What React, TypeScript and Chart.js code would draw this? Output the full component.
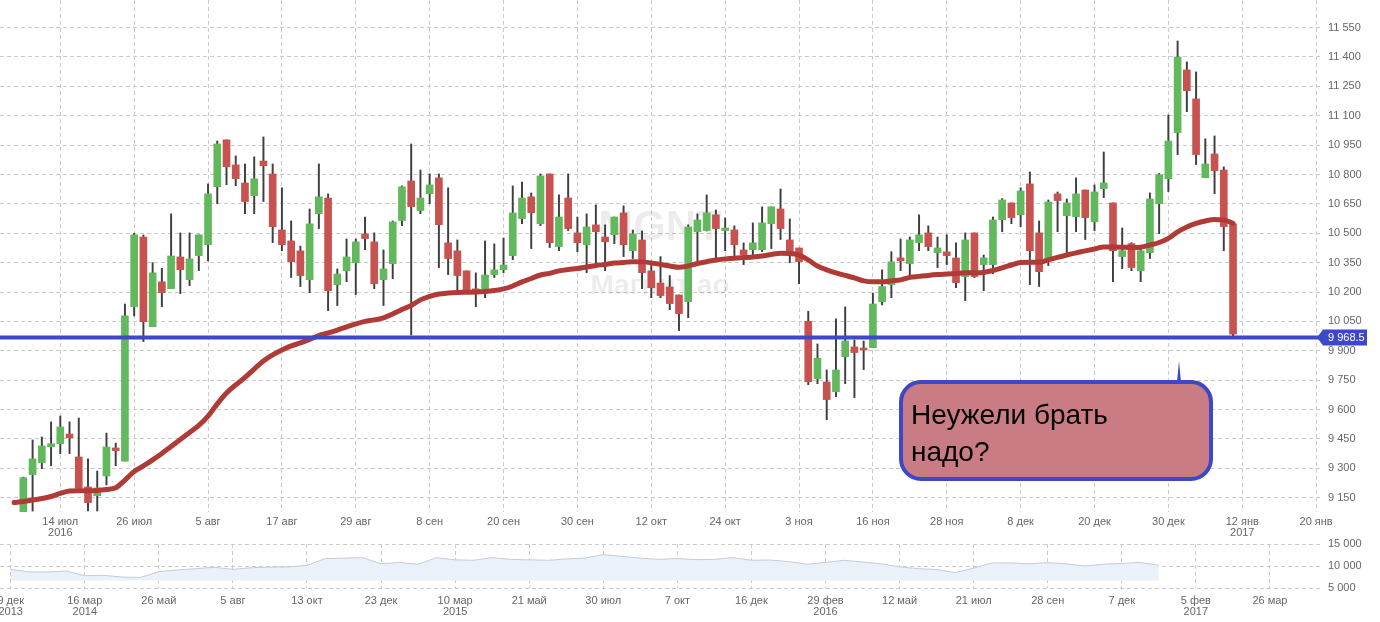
import React, { useEffect, useRef } from 'react';
import { Chart, registerables } from 'chart.js';

Chart.register(...registerables);

// ---- main chart data: trading-day index 0 = 14 июл 2016, first entry is index FIRST_DAY ----
const FIRST_DAY = -5;

const opens: (number | null)[] = [
  null, 9070, 9268, 9329, 9410, 9426, 9475, 9358, 9205, 9160,
  9261, 9404, 9337, 10125, 10481, 10023, 10252, 10217, 10379, 10263,
  10386, 10442, 10738, 10977, 10849, 10757, 10692, 10869, 10803, 10517,
  10461, 10410, 10263, 10600, 10680, 10238, 10309, 10350, 10497, 10456,
  10263, 10345, 10565, 10767, 10616, 10702, 10783, 10451, 10410, 10308,
  10216, 10217, 10289, 10314, 10386, 10575, 10686, 10549, 10803, 10432,
  10680, 10502, 10442, 10543, 10481, 10493, 10604, 10411, 10466, 10308,
  10246, 10226, 10185, 10151, 10508, 10514, 10594, 10514, 10517, 10415,
  10416, 10416, 10549, 10624, 10466, 10425, 10051, 9758, 9741, 9691,
  9870, 9920, 9909, 9916, 10151, 10238, 10374, 10345, 10452, 10502,
  10401, 10405, 10374, 10279, 10502, 10340, 10340, 10570, 10655, 10595,
  10752, 10502, 10371, 10701, 10590, 10585, 10721, 10559, 10728, 10655,
  10381, 10447, 10309, 10401, 10651, 10779, 11014, 11334, 11186, 10784,
  10905, 10823, 10548,
];

const highs: (number | null)[] = [
  null, 9255, 9445, 9460, 9537, 9567, 9537, 9557, 9348, 9286,
  9480, 9429, 10139, 10500, 10491, 10350, 10321, 10599, 10502, 10502,
  10492, 10752, 10971, 10977, 10895, 10854, 10890, 10992, 10854, 10732,
  10563, 10435, 10624, 10854, 10701, 10318, 10471, 10471, 10583, 10502,
  10415, 10563, 10742, 10956, 10823, 10803, 10803, 10732, 10466, 10308,
  10298, 10461, 10446, 10476, 10742, 10762, 10706, 10803, 10803, 10696,
  10803, 10583, 10599, 10645, 10543, 10583, 10640, 10517, 10512, 10338,
  10381, 10284, 10185, 10543, 10599, 10696, 10619, 10578, 10538, 10451,
  10553, 10635, 10635, 10726, 10573, 10425, 10102, 9935, 9802, 10063,
  10124, 9955, 9950, 10195, 10313, 10406, 10471, 10481, 10594, 10538,
  10481, 10492, 10451, 10502, 10502, 10389, 10583, 10677, 10655, 10732,
  10813, 10563, 10670, 10711, 10675, 10783, 10721, 10747, 10915, 10655,
  10527, 10452, 10432, 10706, 10805, 11104, 11482, 11375, 11324, 10982,
  10997, 10839, 10548,
];

const lows: (number | null)[] = [
  null, 9060, 9082, 9298, 9313, 9375, 9375, 9198, 9082, 9082,
  9215, 9313, 9337, 10078, 9947, 10023, 10125, 10217, 10192, 10233,
  10309, 10359, 10651, 10748, 10743, 10600, 10600, 10662, 10452, 10411,
  10274, 10228, 10197, 10524, 10105, 10131, 10253, 10187, 10416, 10217,
  10131, 10268, 10539, 9981, 10600, 10651, 10325, 10289, 10207, 10205,
  10125, 10171, 10274, 10299, 10365, 10549, 10422, 10539, 10427, 10411,
  10514, 10406, 10299, 10350, 10309, 10447, 10381, 10371, 10217, 10171,
  10171, 10110, 10003, 10069, 10360, 10512, 10371, 10411, 10381, 10340,
  10386, 10406, 10422, 10468, 10350, 10243, 9727, 9732, 9548, 9666,
  9732, 9661, 9804, 9916, 10134, 10171, 10309, 10279, 10411, 10411,
  10325, 10340, 10222, 10156, 10274, 10207, 10294, 10508, 10549, 10534,
  10238, 10228, 10335, 10508, 10401, 10508, 10468, 10514, 10682, 10253,
  10319, 10309, 10253, 10371, 10498, 10713, 10902, 11121, 10851, 10784,
  10702, 10411, 9968.5,
];

const closes: (number | null)[] = [
  null, 9252, 9348, 9414, 9426, 9511, 9456, 9198, 9125, 9200,
  9409, 9390, 10078, 10492, 10049, 10298, 10197, 10384, 10314, 10369,
  10492, 10701, 10956, 10840, 10779, 10662, 10778, 10845, 10534, 10442,
  10355, 10284, 10548, 10686, 10207, 10292, 10379, 10456, 10473, 10243,
  10318, 10558, 10737, 10636, 10680, 10747, 10544, 10371, 10284, 10207,
  10206, 10287, 10313, 10338, 10604, 10680, 10605, 10793, 10452, 10583,
  10524, 10452, 10532, 10508, 10457, 10583, 10442, 10497, 10299, 10222,
  10182, 10141, 10090, 10532, 10568, 10604, 10524, 10527, 10442, 10391,
  10451, 10553, 10635, 10524, 10391, 10355, 9742, 9862, 9651, 9802,
  9950, 9891, 9904, 10139, 10228, 10354, 10360, 10466, 10492, 10432,
  10425, 10386, 10248, 10466, 10279, 10374, 10568, 10670, 10580, 10716,
  10411, 10304, 10660, 10667, 10655, 10701, 10580, 10711, 10757, 10411,
  10411, 10325, 10411, 10675, 10799, 10971, 11400, 11228, 10902, 10854,
  10820, 10534, 9985,
];

const movingAverage: number[] = [
  9125, 9131, 9138, 9146, 9156, 9172, 9184, 9186, 9186, 9187,
  9192, 9201, 9240, 9284, 9312, 9343, 9376, 9412, 9447, 9483,
  9519, 9567, 9629, 9685, 9726, 9764, 9807, 9848, 9879, 9904,
  9925, 9940, 9958, 9978, 9991, 10006, 10022, 10037, 10050, 10058,
  10068, 10088, 10111, 10131, 10160, 10178, 10190, 10195, 10198, 10199,
  10200, 10203, 10208, 10216, 10231, 10252, 10269, 10287, 10295, 10308,
  10315, 10320, 10328, 10336, 10341, 10348, 10351, 10355, 10354, 10349,
  10341, 10333, 10326, 10333, 10346, 10355, 10364, 10369, 10373, 10376,
  10379, 10384, 10392, 10398, 10397, 10389, 10364, 10333, 10313, 10298,
  10285, 10272, 10257, 10252, 10252, 10257, 10262, 10275, 10280, 10285,
  10289, 10292, 10295, 10298, 10298, 10300, 10310, 10323, 10338, 10351,
  10352, 10352, 10364, 10377, 10389, 10400, 10410, 10420, 10430, 10430,
  10429, 10427, 10429, 10440, 10453, 10474, 10507, 10532, 10550, 10563,
  10570, 10568, 10551,
];

const LAST_PRICE = 9968.5;

const xTickDays = [0, 8, 16, 24, 32, 40, 48, 56, 64, 72, 80, 88, 96, 104, 112, 120, 128, 136];
const xTickLabels: (string | string[])[] = [
  ['14 июл', '2016'], '26 июл', '5 авг', '17 авг', '29 авг', '8 сен', '20 сен', '30 сен',
  '12 окт', '24 окт', '3 ноя', '16 ноя', '28 ноя', '8 дек', '20 дек', '30 дек',
  ['12 янв', '2017'], '20 янв',
];
const yTicks = [9150, 9300, 9450, 9600, 9750, 9900, 10050, 10200, 10350, 10500, 10650, 10800, 10950, 11100, 11250, 11400, 11550];
const X_MIN = -6.53;
const X_MAX = 136.42;
const Y_MIN = 9077;
const Y_MAX = 11691;

// ---- navigator data: one value per quarter of a navigator label interval ----
const NAV_STEP = 0.25;
const navigatorValues = [
  9240, 8640, 8640, 8860, 7800, 7880, 7500, 7400, 8700, 9100,
  9400, 9700, 9240, 9600, 9750, 9800, 10150, 11700, 11800, 11900,
  10500, 10800, 10400, 11900, 11400, 11300, 11900, 11500, 11400, 11300,
  11600, 11800, 12600, 12200, 11800, 11500, 11700, 11450, 11500, 11900,
  11300, 11360, 11000, 10400, 10800, 11300, 10900, 10500, 9800, 9400,
  9200, 8500, 9500, 10700, 10700, 10500, 10750, 10500, 10000, 10400,
  10600, 10800, 10150,
];
const navTickLabels: (string | string[])[] = [
  ['9 дек', '2013'], ['16 мар', '2014'], '26 май', '5 авг', '13 окт', '23 дек',
  ['10 мар', '2015'], '21 май', '30 июл', '7 окт', '16 дек', ['29 фев', '2016'],
  '12 май', '21 июл', '28 сен', '7 дек', ['5 фев', '2017'], '26 мар',
];
const navYTicks = [5000, 10000, 15000];
const NAV_X_MIN = -0.1445;
const NAV_X_MAX = 17.676;
const NAV_FILL_BASE = 6700;

const FONT = "'Liberation Sans', Arial, sans-serif";
const GREEN = '#61b85d';
const RED = '#c85250';
const WICK = '#3f3f3f';
const MA_COLOR = '#b03b36';
const BLUE = '#3f47c9';
const GRID = '#cbcbcb';
const TICK_COLOR = '#666666';

const fmt = (n: number) => String(n).replace(/\B(?=(\d{3})+(?!\d))/g, ' ');

const watermarkPlugin = {
  id: 'watermark',
  beforeDatasetsDraw(chart: any) {
    const { ctx, chartArea: a } = chart;
    const cx = (a.left + a.right) / 2;
    const cy = (a.top + a.bottom) / 2;
    ctx.save();
    ctx.fillStyle = 'rgba(0,0,0,0.075)';
    ctx.textAlign = 'center';
    ctx.textBaseline = 'middle';
    ctx.font = `bold 42px ${FONT}`;
    ctx.fillText('MGNT', cx, cy - 28);
    ctx.font = `bold 28px ${FONT}`;
    ctx.fillText('Магнит ао', cx, cy + 30);
    ctx.restore();
  },
};

const overlayPlugin = {
  id: 'overlay',
  afterDatasetsDraw(chart: any) {
    const { ctx, chartArea: a } = chart;
    const y = chart.scales.y.getPixelForValue(LAST_PRICE);
    ctx.save();
    ctx.strokeStyle = BLUE;
    ctx.lineWidth = 4;
    ctx.beginPath();
    ctx.moveTo(a.left, y);
    ctx.lineTo(a.right, y);
    ctx.stroke();
    // price label
    ctx.fillStyle = BLUE;
    ctx.beginPath();
    ctx.moveTo(a.right - 3, y);
    ctx.lineTo(a.right + 3, y - 8);
    ctx.lineTo(a.right + 47, y - 8);
    ctx.lineTo(a.right + 47, y + 8);
    ctx.lineTo(a.right + 3, y + 8);
    ctx.closePath();
    ctx.fill();
    ctx.fillStyle = '#ffffff';
    ctx.font = `11px ${FONT}`;
    ctx.textBaseline = 'middle';
    ctx.textAlign = 'left';
    ctx.fillText(fmt(LAST_PRICE), a.right + 8, y + 0.5);
    ctx.restore();
  },
  afterDraw(chart: any) {
    const { ctx } = chart;
    ctx.save();
    // callout pointer
    ctx.fillStyle = BLUE;
    ctx.beginPath();
    ctx.moveTo(1177, 382);
    ctx.lineTo(1179, 361);
    ctx.lineTo(1181, 382);
    ctx.closePath();
    ctx.fill();
    // callout box
    ctx.beginPath();
    ctx.roundRect(901, 382, 310, 97, 20);
    ctx.fillStyle = '#c97c83';
    ctx.fill();
    ctx.lineWidth = 4;
    ctx.strokeStyle = BLUE;
    ctx.stroke();
    ctx.fillStyle = '#000000';
    ctx.font = `28px ${FONT}`;
    ctx.textAlign = 'left';
    ctx.textBaseline = 'alphabetic';
    ctx.fillText('Неужели брать', 911, 424);
    ctx.fillText('надо?', 911, 461);
    ctx.restore();
  },
};

export default function App() {
  const mainRef = useRef<HTMLCanvasElement | null>(null);
  const navRef = useRef<HTMLCanvasElement | null>(null);

  useEffect(() => {
    Chart.defaults.font.family = FONT;

    const bodies: any[] = [];
    const bodyColors: string[] = [];
    const wicks: any[] = [];
    opens.forEach((o, i) => {
      const c = closes[i];
      if (o == null || c == null) return;
      const x = FIRST_DAY + i;
      bodies.push({ x, y: [o, c] });
      bodyColors.push(c >= o ? GREEN : RED);
      wicks.push({ x, y: [lows[i], highs[i]] });
    });
    const maData = movingAverage.map((v, i) => ({ x: FIRST_DAY + i, y: v }));

    const tickFont = { size: 11, family: FONT, lineHeight: 1 };

    const main = new Chart(mainRef.current as HTMLCanvasElement, {
      type: 'bar',
      data: {
        datasets: [
          { type: 'bar', data: wicks, backgroundColor: WICK, barThickness: 1.3, grouped: false, order: 3 } as any,
          { type: 'bar', data: bodies, backgroundColor: bodyColors, barThickness: 7, minBarLength: 2, grouped: false, order: 2 } as any,
          {
            type: 'line', data: maData, borderColor: MA_COLOR, borderWidth: 5, pointRadius: 0,
            cubicInterpolationMode: 'monotone', order: 1, borderCapStyle: 'round', borderJoinStyle: 'round',
          } as any,
        ],
      },
      options: {
        animation: false,
        responsive: false,
        devicePixelRatio: 1,
        layout: { padding: 0, autoPadding: false },
        plugins: { legend: { display: false }, tooltip: { enabled: false } },
        scales: {
          x: {
            type: 'linear',
            min: X_MIN,
            max: X_MAX,
            offset: false,
            afterBuildTicks: (s: any) => { s.ticks = xTickDays.map((v) => ({ value: v })); },
            afterFit: (s: any) => { s.height = 28; s.paddingLeft = 0; s.paddingRight = 0; },
            ticks: {
              autoSkip: false, maxRotation: 0, minRotation: 0, padding: 4, color: TICK_COLOR, font: tickFont,
              callback: (_v: any, i: number) => xTickLabels[i],
            },
            grid: { color: GRID, lineWidth: 1, drawTicks: false, offset: false },
            border: { display: false, dash: [4, 3] },
          } as any,
          y: {
            type: 'linear',
            position: 'right',
            min: Y_MIN,
            max: Y_MAX,
            afterBuildTicks: (s: any) => { s.ticks = yTicks.map((v) => ({ value: v })); },
            afterFit: (s: any) => { s.width = 60; s.paddingTop = 0; s.paddingBottom = 0; },
            ticks: { padding: 8, color: TICK_COLOR, font: tickFont, callback: (v: any) => fmt(Number(v)) },
            grid: { color: GRID, lineWidth: 1, drawTicks: false },
            border: { display: false, dash: [4, 3] },
          } as any,
        },
      },
      plugins: [watermarkPlugin, overlayPlugin],
    });

    const navData = navigatorValues.map((v, i) => ({ x: i * NAV_STEP, y: v }));
    const nav = new Chart(navRef.current as HTMLCanvasElement, {
      type: 'line',
      data: {
        datasets: [
          {
            data: navData, borderColor: '#c3ccd7', borderWidth: 1, backgroundColor: '#eaf1f9',
            fill: { value: NAV_FILL_BASE }, pointRadius: 0, tension: 0,
          } as any,
        ],
      },
      options: {
        animation: false,
        responsive: false,
        devicePixelRatio: 1,
        layout: { padding: { top: 8, left: 0, right: 0, bottom: 0 }, autoPadding: false },
        plugins: { legend: { display: false }, tooltip: { enabled: false } },
        scales: {
          x: {
            type: 'linear',
            min: NAV_X_MIN,
            max: NAV_X_MAX,
            afterBuildTicks: (s: any) => { s.ticks = navTickLabels.map((_l, i) => ({ value: i })); },
            afterFit: (s: any) => { s.height = 34; s.paddingLeft = 0; s.paddingRight = 0; },
            ticks: {
              autoSkip: false, maxRotation: 0, minRotation: 0, padding: 7, color: TICK_COLOR, font: tickFont,
              callback: (_v: any, i: number) => navTickLabels[i],
            },
            grid: { color: GRID, lineWidth: 1, drawTicks: false },
            border: { display: false, dash: [4, 3] },
          } as any,
          y: {
            type: 'linear',
            position: 'right',
            min: 5000,
            max: 15000,
            afterBuildTicks: (s: any) => { s.ticks = navYTicks.map((v) => ({ value: v })); },
            afterFit: (s: any) => { s.width = 60; s.paddingTop = 0; s.paddingBottom = 0; },
            ticks: { padding: 8, color: TICK_COLOR, font: tickFont, callback: (v: any) => fmt(Number(v)) },
            grid: { color: GRID, lineWidth: 1, drawTicks: false },
            border: { display: false, dash: [4, 3] },
          } as any,
        },
      },
    });

    return () => {
      main.destroy();
      nav.destroy();
    };
  }, []);

  return (
    <div style={{ position: 'absolute', left: 0, top: 0, width: 1380, height: 622, background: '#ffffff' }}>
      <canvas ref={mainRef} width={1380} height={540} style={{ position: 'absolute', left: 0, top: 0, display: 'block' }} />
      <canvas ref={navRef} width={1380} height={86} style={{ position: 'absolute', left: 0, top: 536, display: 'block' }} />
    </div>
  );
}
